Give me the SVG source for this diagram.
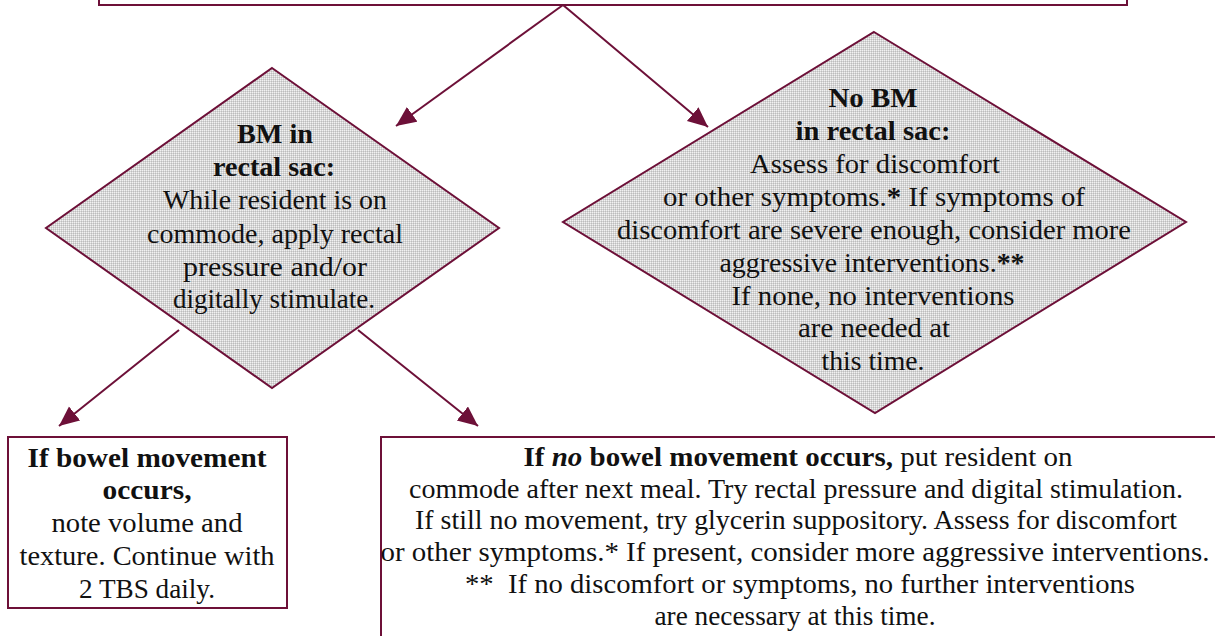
<svg xmlns="http://www.w3.org/2000/svg" width="1215" height="636" viewBox="0 0 1215 636">
<style>
.box{fill:#ffffff;stroke:#6d1038;stroke-width:2}
.dia{fill:url(#dots);stroke:#6d1038;stroke-width:2}
.con{fill:none;stroke:#6d1038;stroke-width:2}
text{fill:#111;text-anchor:middle}
.d{font-size:28px}
.b{font-size:27px}
.bold{font-weight:bold}
</style>
<defs>
<pattern id="dots" width="2" height="2" patternUnits="userSpaceOnUse">
<rect width="2" height="2" fill="#d6d6d6"/>
<rect width="1" height="1" fill="#f2f2f2"/>
<rect x="1" y="1" width="1" height="1" fill="#bdbdbd"/>
</pattern>
<marker id="ah" markerUnits="userSpaceOnUse" markerWidth="22" markerHeight="20" refX="20" refY="9" orient="auto">
<path d="M0,0 L20,9 L0,18 Z" fill="#6d1038"/>
</marker>
</defs>
<g id="top-box">
<rect class="box" x="99" y="-10" width="1028" height="15"/>
</g>
<g id="connectors">
<line class="con" x1="563" y1="5" x2="396" y2="126" marker-end="url(#ah)"/>
<line class="con" x1="563" y1="5" x2="708" y2="127" marker-end="url(#ah)"/>
<line class="con" x1="179" y1="330" x2="59" y2="426" marker-end="url(#ah)"/>
<line class="con" x1="358" y1="330" x2="478" y2="426" marker-end="url(#ah)"/>
</g>
<g font-family="Liberation Serif, DejaVu Serif, Times New Roman, serif">
<g id="bm-diamond">
<polygon class="dia" points="272,68 499,228 272,388 46,228"/>
<text class="d bold" x="275" y="143" textLength="76" lengthAdjust="spacingAndGlyphs">BM in</text>
<text class="d bold" x="274" y="176" textLength="122" lengthAdjust="spacingAndGlyphs">rectal sac:</text>
<text class="d" x="275" y="209" textLength="224" lengthAdjust="spacingAndGlyphs">While resident is on</text>
<text class="d" x="275" y="243" textLength="256" lengthAdjust="spacingAndGlyphs">commode, apply rectal</text>
<text class="d" x="275" y="276" textLength="184" lengthAdjust="spacingAndGlyphs">pressure and/or</text>
<text class="d" x="274" y="308" textLength="202" lengthAdjust="spacingAndGlyphs">digitally stimulate.</text>
</g>
<g id="nobm-diamond">
<polygon class="dia" points="874,32 1186,222 875,413 563,222"/>
<text class="d bold" x="873" y="107" textLength="89" lengthAdjust="spacingAndGlyphs">No BM</text>
<text class="d bold" x="873" y="140" textLength="155" lengthAdjust="spacingAndGlyphs">in rectal sac:</text>
<text class="d" x="875" y="173" textLength="250" lengthAdjust="spacingAndGlyphs">Assess for discomfort</text>
<text class="d" x="874" y="206" textLength="422" lengthAdjust="spacingAndGlyphs">or other symptoms.<tspan class="bold">*</tspan> If symptoms of</text>
<text class="d" x="874" y="239" textLength="514" lengthAdjust="spacingAndGlyphs">discomfort are severe enough, consider more</text>
<text class="d" x="872" y="272" textLength="305" lengthAdjust="spacingAndGlyphs">aggressive interventions.<tspan class="bold">**</tspan></text>
<text class="d" x="873" y="305" textLength="283" lengthAdjust="spacingAndGlyphs">If none, no interventions</text>
<text class="d" x="874" y="337" textLength="152" lengthAdjust="spacingAndGlyphs">are needed at</text>
<text class="d" x="873" y="370" textLength="103" lengthAdjust="spacingAndGlyphs">this time.</text>
</g>
<g id="bm-occurs-box">
<rect class="box" x="8" y="437" width="279" height="171"/>
<text class="b bold" x="147" y="467" textLength="239" lengthAdjust="spacingAndGlyphs">If bowel movement</text>
<text class="b bold" x="147" y="499" textLength="89" lengthAdjust="spacingAndGlyphs">occurs,</text>
<text class="b" x="147" y="532" textLength="191" lengthAdjust="spacingAndGlyphs">note volume and</text>
<text class="b" x="147" y="565" textLength="255" lengthAdjust="spacingAndGlyphs">texture. Continue with</text>
<text class="b" x="147" y="598" textLength="136" lengthAdjust="spacingAndGlyphs">2 TBS daily.</text>
</g>
<g id="no-bm-occurs-box">
<rect class="box" x="381" y="437" width="850" height="220"/>
<text class="b" x="798" y="466" textLength="549" lengthAdjust="spacingAndGlyphs"><tspan class="bold">If <tspan font-style="italic">no</tspan> bowel movement occurs,</tspan> put resident on</text>
<text class="b" x="796" y="498" textLength="774" lengthAdjust="spacingAndGlyphs">commode after next meal. Try rectal pressure and digital stimulation.</text>
<text class="b" x="796" y="529" textLength="762" lengthAdjust="spacingAndGlyphs">If still no movement, try glycerin suppository. Assess for discomfort</text>
<text class="b" x="795" y="561" textLength="829" lengthAdjust="spacingAndGlyphs">or other symptoms.* If present, consider more aggressive interventions.</text>
<text class="b" x="800" y="593" textLength="670" lengthAdjust="spacingAndGlyphs">**&#160; If no discomfort or symptoms, no further interventions</text>
<text class="b" x="795" y="625" textLength="281" lengthAdjust="spacingAndGlyphs">are necessary at this time.</text>
</g>
</g>
</svg>
